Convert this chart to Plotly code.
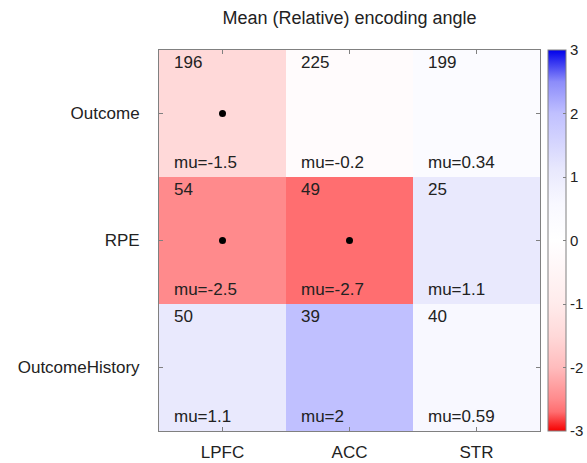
import plotly.graph_objects as go

# Regions (columns) and regressors (rows)
regions = ["LPFC", "ACC", "STR"]
regressors = ["Outcome", "RPE", "OutcomeHistory"]

# Mean relative encoding angle per cell (rows = regressors)
mu = [
    [-1.5, -0.2, 0.34],
    [-2.5, -2.7, 1.1],
    [1.1, 2.0, 0.59],
]
mu_labels = [
    ["-1.5", "-0.2", "0.34"],
    ["-2.5", "-2.7", "1.1"],
    ["1.1", "2", "0.59"],
]
# Number of units per cell
counts = [
    [196, 225, 199],
    [54, 49, 25],
    [50, 39, 40],
]
# Cells marked as significant (column index, row index)
sig_cols = [0, 0, 1]
sig_rows = [0, 1, 1]

cbar_ticks = [-3, -2, -1, 0, 1, 2, 3]
cbar_ticktext = ["-3", "-2", "-1", "0", "1", "2", "3"]

# Diverging red-white-blue map, steep near the ends
colorscale = [
    [0.0, "rgb(245,0,0)"],
    [0.05, "rgb(255,110,112)"],
    [0.0833, "rgb(255,138,140)"],
    [0.1667, "rgb(255,188,189)"],
    [0.25, "rgb(255,217,217)"],
    [0.3333, "rgb(255,235,235)"],
    [0.4667, "rgb(255,251,252)"],
    [0.5, "rgb(255,255,255)"],
    [0.5567, "rgb(251,251,255)"],
    [0.598, "rgb(248,248,255)"],
    [0.6833, "rgb(233,233,253)"],
    [0.8333, "rgb(192,192,255)"],
    [0.9167, "rgb(140,140,250)"],
    [1.0, "rgb(0,0,235)"],
]

font_family = "Liberation Sans, Arial, Helvetica, sans-serif"
text_color = "#222222"
axis_color = "#808080"

fig = go.Figure()
fig.add_trace(go.Heatmap(
    z=mu,
    x=list(range(len(regions))),
    y=list(range(len(regressors))),
    colorscale=colorscale,
    zmin=-3, zmax=3,
    hoverinfo="skip",
    colorbar=dict(
        x=1.021, xanchor="left", xref="paper",
        y=0.5, yanchor="middle", len=1, lenmode="fraction",
        thickness=18, thicknessmode="pixels",
        xpad=0, ypad=0,
        outlinecolor=axis_color, outlinewidth=1,
        tickvals=cbar_ticks, ticktext=cbar_ticktext,
        ticks="inside", ticklen=3, tickcolor=axis_color,
        tickfont=dict(size=15, color=text_color, family=font_family),
    ),
))

fig.add_trace(go.Scatter(
    x=sig_cols, y=sig_rows, mode="markers",
    marker=dict(color="black", size=7),
    hoverinfo="skip", showlegend=False,
))

annotations = []
for r in range(len(regressors)):
    for c in range(len(regions)):
        annotations.append(dict(
            x=c - 0.5 + 0.1, y=r - 0.5 + 0.095, xref="x", yref="y",
            text=str(counts[r][c]), showarrow=False,
            xanchor="left", yanchor="middle",
            font=dict(size=17, color=text_color, family=font_family),
        ))
        annotations.append(dict(
            x=c - 0.5 + 0.1, y=r - 0.5 + 0.885, xref="x", yref="y",
            text="mu=" + mu_labels[r][c], showarrow=False,
            xanchor="left", yanchor="middle",
            font=dict(size=17, color=text_color, family=font_family),
        ))

fig.update_layout(
    width=587, height=463,
    margin=dict(l=159, r=47, t=50, b=32, autoexpand=False),
    paper_bgcolor="white", plot_bgcolor="white",
    showlegend=False,
    title=dict(
        text="Mean (Relative) encoding angle",
        x=(159 + 540) / 2 / 587, xanchor="center",
        y=1 - 18 / 463, yanchor="middle",
        font=dict(size=18, color=text_color, family=font_family),
    ),
    annotations=annotations,
)

fig.update_xaxes(
    range=[-0.5, 2.5],
    tickvals=list(range(len(regions))), ticktext=regions,
    ticks="inside", ticklen=4, tickcolor=axis_color,
    showline=True, linecolor=axis_color, linewidth=1, mirror="ticks",
    showgrid=False, zeroline=False,
    tickfont=dict(size=17, color=text_color, family=font_family),
    ticklabelstandoff=6,
)
fig.update_yaxes(
    range=[2.5, -0.5],
    tickvals=list(range(len(regressors))), ticktext=regressors,
    ticks="inside", ticklen=4, tickcolor=axis_color,
    showline=True, linecolor=axis_color, linewidth=1, mirror="ticks",
    showgrid=False, zeroline=False,
    tickfont=dict(size=17, color=text_color, family=font_family),
    ticklabelstandoff=15,
)

fig.write_html("out.html")
